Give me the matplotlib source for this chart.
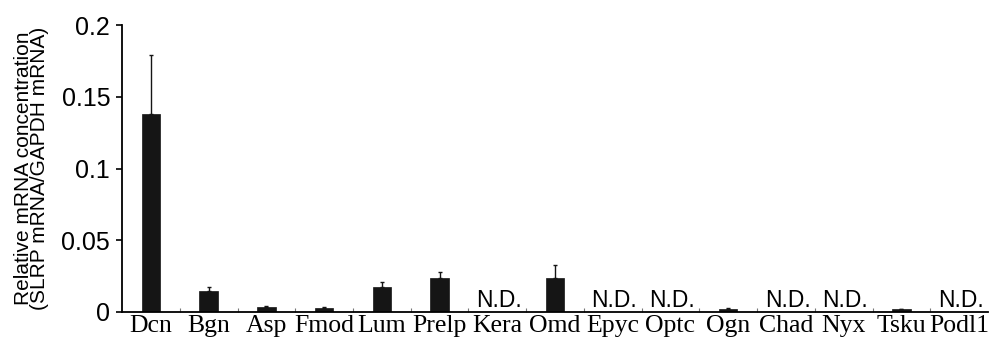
import numpy as np
import matplotlib
matplotlib.use('Agg')
import matplotlib.pyplot as plt

# values (N.D. = not detected)
genes = ['Dcn', 'Bgn', 'Asp', 'Fmod', 'Lum', 'Prelp', 'Kera', 'Omd',
         'Epyc', 'Optc', 'Ogn', 'Chad', 'Nyx', 'Tsku', 'Podl1']
means = [0.138, 0.0148, 0.0035, 0.0028, 0.0176, 0.0239, np.nan, 0.0235,
         np.nan, np.nan, 0.0021, np.nan, np.nan, 0.0019, np.nan]
errs = [0.041, 0.0028, 0.0007, 0.0007, 0.0031, 0.0040, np.nan, 0.0090,
        np.nan, np.nan, 0.0007, np.nan, np.nan, 0.0004, np.nan]

x = np.arange(len(genes))
means = np.array(means)
errs = np.array(errs)
detected = ~np.isnan(means)

fig = plt.figure(figsize=(9.89, 3.43), dpi=100)
ax = fig.add_axes([0.1234, 0.0904, 0.8756, 0.8366])

ax.bar(x[detected], means[detected], width=0.32, color='#151515',
       edgecolor='#151515', linewidth=0.5, zorder=2)
ax.errorbar(x[detected], means[detected],
            yerr=[np.zeros(detected.sum()), errs[detected]],
            fmt='none', ecolor='#151515', elinewidth=1, capsize=1.5,
            capthick=1, zorder=3)

for xi in x[~detected]:
    ax.text(xi + 0.03, 0.0002, 'N.D.', ha='center', va='bottom', fontsize=16.5,
            family='Liberation Sans')

ax.set_xlim(-0.5, len(genes) - 0.5)
ax.set_ylim(0, 0.2)
ax.set_yticks([0, 0.05, 0.1, 0.15, 0.2])
ax.set_yticklabels(['0', '0.05', '0.1', '0.15', '0.2'],
                   fontsize=18, family='Liberation Sans')
ax.set_xticks(x)
ax.set_xticklabels(genes, fontsize=18.5, family='Liberation Serif')
ax.tick_params(axis='x', length=0, pad=2)
ax.set_xticks(np.arange(0.5, len(genes) - 0.5, 1), minor=True)
ax.tick_params(axis='x', which='minor', direction='in', length=3,
               width=0.8, color='#777777')
ax.tick_params(axis='y', direction='out', length=4.5, width=1.2, pad=4)

for s in ['top', 'right']:
    ax.spines[s].set_visible(False)
ax.spines['left'].set_linewidth(1.3)
ax.spines['bottom'].set_linewidth(1.3)

ax.set_ylabel('Relative mRNA concentration\n(SLRP mRNA/GAPDH mRNA)',
              fontsize=15, family='Liberation Sans', linespacing=0.8,
              labelpad=9)

fig.savefig('out.png', dpi=100)
